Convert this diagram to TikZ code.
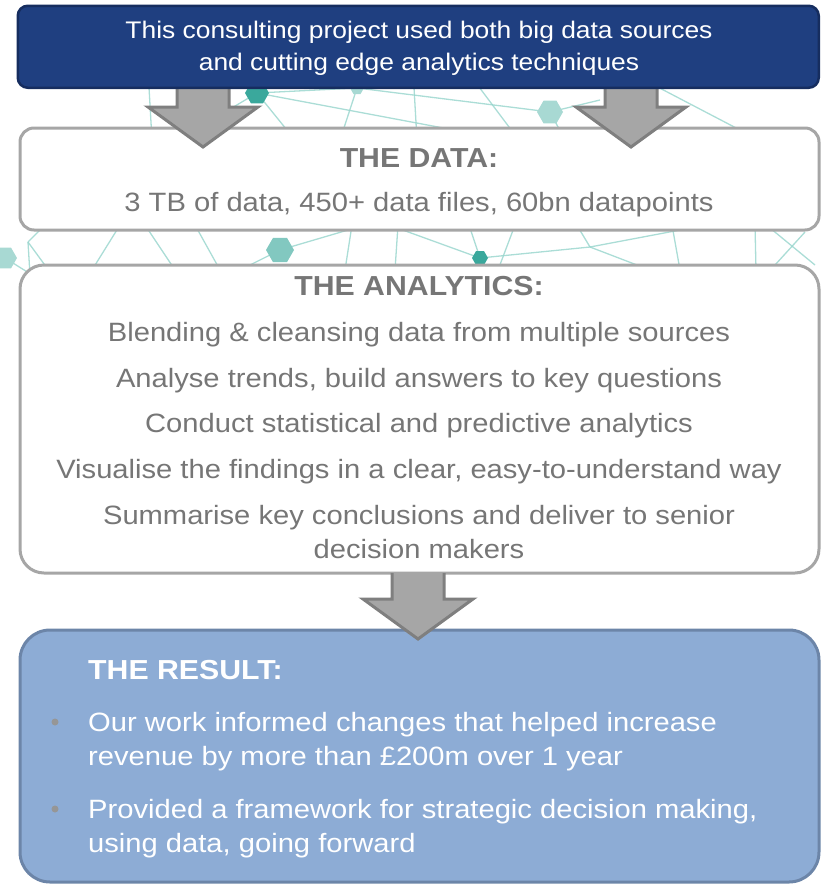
\documentclass[tikz,border=0pt]{standalone}
\usepackage{fontspec}
\setmainfont{Liberation Sans}[FakeStretch=1.1]
\usetikzlibrary{shapes.geometric, calc}

\definecolor{introblue}{RGB}{31,63,128}
\definecolor{introedge}{RGB}{22,45,95}
\definecolor{boxgray}{RGB}{166,166,166}
\definecolor{textgray}{RGB}{118,118,118}
\definecolor{resultblue}{RGB}{141,172,213}
\definecolor{resultedge}{RGB}{108,133,168}
\definecolor{bulletgray}{RGB}{150,150,150}
\definecolor{arrowfill}{RGB}{166,166,166}
\definecolor{arrowedge}{RGB}{127,127,127}
\definecolor{netline}{RGB}{150,212,204}
\definecolor{netdark}{RGB}{58,168,156}
\definecolor{netlight}{RGB}{168,217,211}
\definecolor{netmid}{RGB}{130,200,192}

% block arrow from a tail point down to a tip point (same x)
\newcommand{\flowarrow}[2]{%
  \filldraw[blockarrow] ($(#1)+(26,0)$) -- ($(#2)+(26,-40)$) -- ($(#2)+(55,-40)$) -- (#2)
    -- ($(#2)+(-55,-40)$) -- ($(#2)+(-26,-40)$) -- ($(#1)+(-26,0)$);}

\begin{document}
\begin{tikzpicture}[
    x=1pt, y=-1pt,
    bodytext/.style={font=\fontsize{26.5}{35}\selectfont, text=textgray, inner sep=0pt},
    headtext/.style={font=\fontsize{27.5}{35}\selectfont\bfseries, text=textgray, inner sep=0pt},
    introbox/.style={rectangle, draw=introedge, fill=introblue, line width=2.5pt, rounded corners=10pt, inner sep=0pt, anchor=north west},
    plainbox/.style={rectangle, draw=boxgray, fill=white, line width=3pt, inner sep=0pt, anchor=north west},
    resultbox/.style={rectangle, draw=resultedge, fill=resultblue, line width=3pt, rounded corners=30pt, inner sep=0pt, anchor=north west},
    blockarrow/.style={fill=arrowfill, draw=arrowedge, line width=3pt, line join=miter},
    netedge/.style={draw=netline, line width=1.3pt, opacity=0.8},
    hex/.style={regular polygon, regular polygon sides=6, draw=none, inner sep=0pt}
]
\useasboundingbox (0,0) rectangle (821,884);

% network in the background
\foreach \name/\x/\y in {a/257/93, b/357/88, c/550/112, d/280/250, e/480/258, f/590/247, g/5/258, h/28/242,
    p1/148/70, p2/152/140, p3/220/115, p4/295/140, p5/340/140, p6/470/133, p7/413/70, p8/417/140,
    p9/470/75, p10/515/135, p11/600/100, p12/565/140, p13/650/83, p14/740/130,
    q1/45/225, q2/30/275, q3/47/268, q4/40/280, q5/120/225, q6/92/270, q7/145/225, q8/175/270,
    q9/195/225, q10/220/270, q11/365/225, q12/240/270, q13/352/225, q14/345/270, q15/398/225, q16/395/270,
    q17/400/229, q18/468/222, q19/575/222, q20/650/270, q21/680/230, q22/515/225, q23/498/270,
    q24/672/225, q25/680/270, q26/755/225, q27/756/270, q28/770/228, q29/815/265, q30/805/232, q31/775/265}
  \coordinate (\name) at (\x,\y);
\foreach \u/\v in {p1/p2, a/p3, a/p4, a/b, b/p5, a/p6, p7/p8, b/c, p9/p10, c/p11, c/p12, p13/p14,
    h/q1, h/q2, h/q3, g/q4, q5/q6, q7/q8, q9/q10, d/q11, d/q12, q13/q14, q15/q16,
    e/q17, e/q18, e/f, f/q19, f/q20, f/q21, q22/q23, q24/q25, q26/q27, q28/q29, q30/q31}
  \draw[netedge] (\u) -- (\v);
\node[hex, fill=netdark, minimum size=24pt] (hexa) at (a) {};
\node[hex, fill=netlight, minimum size=14pt] (hexb) at (b) {};
\node[hex, fill=netlight, minimum size=26pt] (hexc) at (c) {};
\node[hex, fill=netmid, minimum size=28pt] (hexd) at (d) {};
\node[hex, fill=netdark, minimum size=16pt] (hexe) at (e) {};
\node[hex, fill=netlight, minimum size=24pt] (hexg) at (g) {};

% boxes
\node[plainbox, rounded corners=14pt, minimum width=799pt, minimum height=102pt] (data) at (18.5,126.5) {};
\node[plainbox, rounded corners=24pt, minimum width=799pt, minimum height=308pt] (analytics) at (18.5,263.5) {};
\node[resultbox, minimum width=799pt, minimum height=252pt] (result) at (18.5,628.5) {};

% arrows
\coordinate (tailL) at (203,87);  \coordinate (tipL) at (203,147);
\coordinate (tailR) at (631,87);  \coordinate (tipR) at (631,147);
\coordinate (tailM) at (418,573); \coordinate (tipM) at (418,639);
\flowarrow{tailL}{tipL}
\flowarrow{tailR}{tipR}
\flowarrow{tailM}{tipM}

\node[introbox, minimum width=801pt, minimum height=82pt] (intro) at (16.5,4.5) {};

% texts
\node[font=\fontsize{24}{32}\selectfont, text=white, inner sep=0pt, anchor=base] (introA) at (419,38) {This consulting project used both big data sources};
\node[font=\fontsize{24}{32}\selectfont, text=white, inner sep=0pt, anchor=base] (introB) at (419,70) {and cutting edge analytics techniques};

\node[headtext, anchor=base] (dataHead) at (419,167) {THE DATA:};
\node[bodytext, anchor=base] (dataA) at (419,211) {3 TB of data, 450+ data files, 60bn datapoints};

\node[headtext, anchor=base] (anHead) at (419,295) {THE ANALYTICS:};
\node[bodytext, anchor=base] (anA) at (419,341) {Blending \& cleansing data from multiple sources};
\node[bodytext, anchor=base] (anB) at (419,387) {Analyse trends, build answers to key questions};
\node[bodytext, anchor=base] (anC) at (419,432) {Conduct statistical and predictive analytics};
\node[bodytext, anchor=base] (anD) at (419,478) {Visualise the findings in a clear, easy-to-understand way};
\node[bodytext, anchor=base] (anE) at (419,524) {Summarise key conclusions and deliver to senior};
\node[bodytext, anchor=base] (anF) at (419,558) {decision makers};

\node[headtext, text=white, anchor=base west] (resHead) at (88,679) {THE RESULT:};
\node[bodytext, text=white, anchor=base west] (resA) at (88,731) {Our work informed changes that helped increase};
\node[bodytext, text=white, anchor=base west] (resB) at (88,765) {revenue by more than £200m over 1 year};
\node[bodytext, text=white, anchor=base west] (resC) at (88,818) {Provided a framework for strategic decision making,};
\node[bodytext, text=white, anchor=base west] (resD) at (88,852) {using data, going forward};
\fill[bulletgray] (55,722) circle (3.5pt);
\fill[bulletgray] (55,809) circle (3.5pt);
\end{tikzpicture}
\end{document}
